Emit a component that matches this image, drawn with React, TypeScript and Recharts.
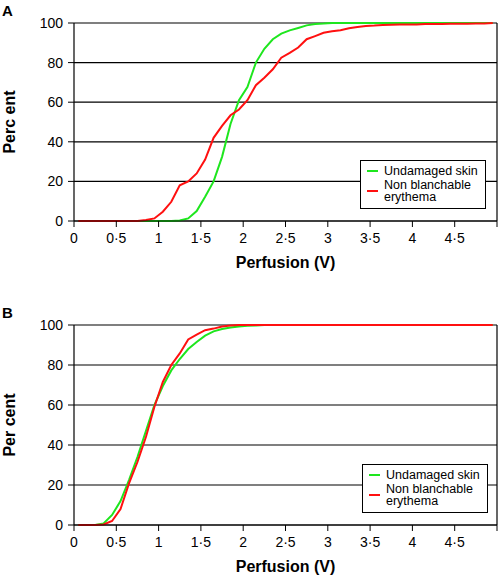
import React from 'react';
import { LineChart, Line, XAxis, YAxis, CartesianGrid, ReferenceLine, Legend } from 'recharts';

const perfusion = [
  0.05, 0.15, 0.25, 0.35, 0.45, 0.55, 0.65, 0.75, 0.85, 0.95,
  1.05, 1.15, 1.25, 1.35, 1.45, 1.55, 1.65, 1.75, 1.85, 1.95,
  2.05, 2.15, 2.25, 2.35, 2.45, 2.55, 2.65, 2.75, 2.85, 2.95,
  3.05, 3.15, 3.25, 3.35, 3.45, 3.55, 3.65, 3.75, 3.85, 3.95,
  4.05, 4.15, 4.25, 4.35, 4.45, 4.55, 4.65, 4.75, 4.85, 4.95,
];

const undamagedA = [
  0, 0, 0, 0, 0, 0, 0, 0, 0, 0,
  0, 0, 0.3, 1.3, 5, 12.3, 20, 32.4, 49, 61,
  67.7, 80, 87, 91.8, 94.6, 96.3, 97.5, 98.8, 99.5, 99.7,
  100, 100, 100, 100, 100, 100, 100, 100, 100, 100,
  100, 100, 100, 100, 100, 100, 100, 100, 100, 100,
];

const erythemaA = [
  0, 0, 0, 0, 0, 0, 0, 0, 0.5, 1.3,
  4.7, 9.7, 18, 20, 24, 31, 42, 48, 53.4, 56.3,
  61, 68.6, 72.4, 76.6, 82.5, 84.9, 87.6, 91.8, 93.4, 95.1,
  95.8, 96.3, 97.3, 98, 98.5, 98.7, 99, 99.1, 99.2, 99.2,
  99.3, 99.5, 99.5, 99.5, 99.6, 99.6, 99.6, 99.7, 99.7, 100,
];

const undamagedB = [
  0, 0, 0, 0.8, 5, 12, 22.5, 34, 47, 60,
  69.5, 77.3, 83, 88, 91.5, 94.7, 96.8, 98, 98.8, 99.3,
  99.6, 99.8, 100, 100, 100, 100, 100, 100, 100, 100,
  100, 100, 100, 100, 100, 100, 100, 100, 100, 100,
  100, 100, 100, 100, 100, 100, 100, 100, 100, 100,
];

const erythemaB = [
  0, 0, 0, 0.3, 2, 8, 20.8, 31.5, 44, 59,
  71.5, 80, 85.8, 92.8, 95.2, 97.4, 98.2, 99.2, 99.7, 100,
  100, 100, 100, 100, 100, 100, 100, 100, 100, 100,
  100, 100, 100, 100, 100, 100, 100, 100, 100, 100,
  100, 100, 100, 100, 100, 100, 100, 100, 100, 100,
];

const xTicks = [0, 0.5, 1, 1.5, 2, 2.5, 3, 3.5, 4, 4.5, 5];
const xTickLabels = ['0', '0·5', '1', '1·5', '2', '2·5', '3', '3·5', '4', '4·5', ''];
const yTicks = [0, 20, 40, 60, 80, 100];
const seriesNames = ['Undamaged skin', 'Non blanchable erythema'];
const seriesColors = ['#1ee61e', '#ff1010'];

const FONT = '"Liberation Sans", Arial, Helvetica, sans-serif';

const buildRows = (a: number[], b: number[]) =>
  perfusion.map((x, i) => ({ x, undamaged: a[i], erythema: b[i] }));

const LegendBox = () => (
  <div
    style={{
      boxSizing: 'border-box',
      width: 126,
      height: 49,
      border: '1px solid #000',
      background: '#fff',
      padding: '4px 4px 5px 6px',
      fontFamily: FONT,
      fontSize: 12.5,
      lineHeight: '12px',
      color: '#000',
    }}
  >
    <div style={{ display: 'flex', alignItems: 'center' }}>
      <span style={{ width: 11, height: 2, background: seriesColors[0], marginRight: 6, flex: 'none' }} />
      <span>{seriesNames[0]}</span>
    </div>
    <div style={{ display: 'flex', alignItems: 'center', marginTop: 2 }}>
      <span style={{ width: 11, height: 2, background: seriesColors[1], marginRight: 6, flex: 'none' }} />
      <span style={{ width: 95 }}>{seriesNames[1]}</span>
    </div>
  </div>
);

type PanelProps = {
  rows: { x: number; undamaged: number; erythema: number }[];
  height: number;
  top: number;
  xAxisHeight: number;
  panel: string;
  yTitle: string;
  legendPos: { left: number; top: number };
};

const Panel = ({ rows, height, top, xAxisHeight, panel, yTitle, legendPos }: PanelProps) => (
  <LineChart width={500} height={height} data={rows} margin={{ top, right: 3, left: 0, bottom: 0 }}>
    <CartesianGrid vertical={false} stroke="#000" strokeWidth={1.2} />
    <XAxis
      dataKey="x"
      type="number"
      domain={[0, 5]}
      ticks={xTicks}
      interval={0}
      tickFormatter={(v: number) => xTickLabels[xTicks.indexOf(v)] ?? String(v)}
      tickSize={6}
      tickMargin={6}
      height={xAxisHeight}
      stroke="#000"
      tick={{ fill: '#000', fontSize: 14, fontFamily: FONT }}
      tickLine={{ stroke: '#000' }}
      axisLine={{ stroke: '#000', strokeWidth: 1.2 }}
      label={{
        content: (props: any) => {
          const vb = props.viewBox || { x: 74, y: height - xAxisHeight, width: 423 };
          return (
            <text
              x={vb.x + vb.width / 2}
              y={vb.y + 47}
              textAnchor="middle"
              fontFamily={FONT}
              fontWeight="bold"
              fontSize={16}
              fill="#000"
            >
              Perfusion (V)
            </text>
          );
        },
      }}
    />
    <YAxis
      type="number"
      domain={[0, 100]}
      ticks={yTicks}
      interval={0}
      width={74}
      tickSize={6}
      tickMargin={5}
      stroke="#000"
      tick={{ fill: '#000', fontSize: 14, fontFamily: FONT }}
      tickLine={{ stroke: '#000' }}
      axisLine={{ stroke: '#000', strokeWidth: 1.2 }}
      label={{
        content: (props: any) => {
          const vb = props.viewBox || { x: 0, y: top, width: 74, height: 200 };
          const cy = vb.y + vb.height / 2;
          return (
            <g>
              <text
                x={2}
                y={top - 7}
                fontFamily={FONT}
                fontWeight="bold"
                fontSize={15}
                fill="#000"
              >
                {panel}
              </text>
              <text
                x={15}
                y={cy}
                transform={`rotate(-90, 15, ${cy})`}
                textAnchor="middle"
                fontFamily={FONT}
                fontWeight="bold"
                fontSize={16}
                fill="#000"
              >
                {yTitle}
              </text>
            </g>
          );
        },
      }}
    />
    <ReferenceLine x={5} stroke="#000" strokeWidth={1.2} />
    <Legend
      layout="horizontal"
      verticalAlign="middle"
      align="center"
      content={() => <LegendBox />}
      wrapperStyle={{ left: legendPos.left, top: legendPos.top, width: 126, height: 49 }}
    />
    <Line
      type="linear"
      dataKey="undamaged"
      name={seriesNames[0]}
      stroke={seriesColors[0]}
      strokeWidth={2}
      dot={false}
      activeDot={false}
      isAnimationActive={false}
    />
    <Line
      type="linear"
      dataKey="erythema"
      name={seriesNames[1]}
      stroke={seriesColors[1]}
      strokeWidth={2}
      dot={false}
      activeDot={false}
      isAnimationActive={false}
    />
  </LineChart>
);

export default function App() {
  return (
    <div style={{ position: 'absolute', left: 0, top: 0, width: 500, height: 576, background: '#fff' }}>
      <Panel
        rows={buildRows(undamagedA, erythemaA)}
        height={280}
        top={23}
        xAxisHeight={59}
        panel="A"
        yTitle="Perc ent"
        legendPos={{ left: 360, top: 160 }}
      />
      <Panel
        rows={buildRows(undamagedB, erythemaB)}
        height={296}
        top={45}
        xAxisHeight={51}
        panel="B"
        yTitle="Per cent"
        legendPos={{ left: 362, top: 184 }}
      />
    </div>
  );
}
